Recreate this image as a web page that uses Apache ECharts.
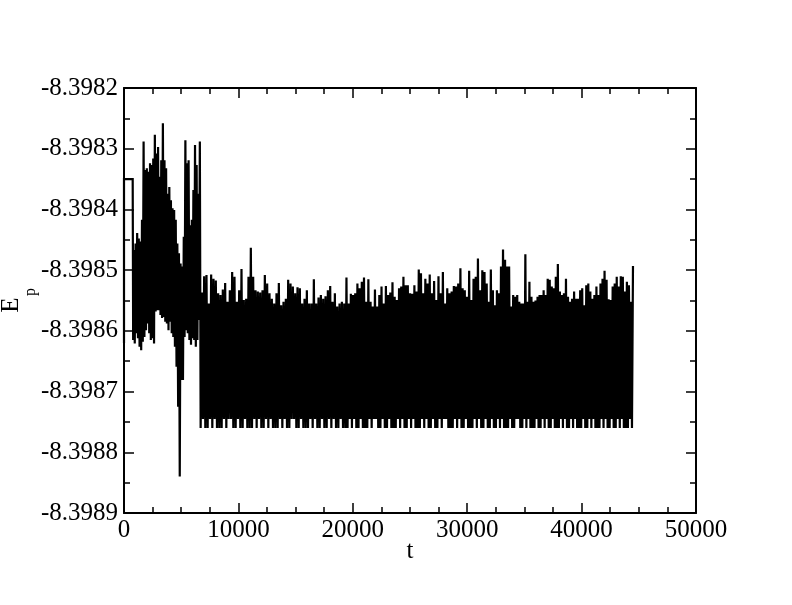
<!DOCTYPE html>
<html>
<head>
<meta charset="utf-8">
<script src="https://cdn.jsdelivr.net/npm/echarts@6/dist/echarts.min.js"></script>
<style>
html,body{margin:0;padding:0;background:#fff;}
#c{width:792px;height:605px;}
</style>
</head>
<body>
<div id="c"></div>
<script>
// ---- data (t, E_p) ----
const xTicks = [0, 10000, 20000, 30000, 40000, 50000];
const yTicks = [-8.3989, -8.3988, -8.3987, -8.3986, -8.3985, -8.3984, -8.3983, -8.3982];

// initial plateau
const startPoints = [[0, -8.39862], [0, -8.39835], [760, -8.39835]];

// segment time boundaries (early, A, B, C)
const segBounds = [800, 6700, 19350, 31800, 44580];

// early (transient) region
const troughsE = [-8.398615,-8.398621,-8.398604,-8.398612,-8.398626,-8.398632,-8.398618,-8.398610,-8.398599,-8.398588,
  -8.398604,-8.398615,-8.398612,-8.398621,-8.398568,-8.398566,-8.398566,-8.398574,-8.398579,-8.398577,
  -8.398585,-8.398588,-8.398599,-8.398585,-8.398604,-8.398610,-8.398626,-8.398659,-8.398725,-8.398840,
  -8.398681,-8.398681,-8.398610,-8.398599,-8.398604,-8.398615,-8.398623,-8.398612,-8.398615,-8.398626,
  -8.398615,-8.398582];
const peaksE = [-8.398467,-8.398456,-8.398439,-8.398448,-8.398453,-8.398417,-8.398288,-8.398335,-8.398332,-8.398338,
  -8.398324,-8.398327,-8.398316,-8.398277,-8.398308,-8.398297,-8.398346,-8.398319,-8.398258,-8.398319,
  -8.398332,-8.398374,-8.398363,-8.398385,-8.398398,-8.398401,-8.398417,-8.398456,-8.398472,-8.398489,
  -8.398494,-8.398445,-8.398286,-8.398324,-8.398319,-8.398426,-8.398417,-8.398368,-8.398294,-8.398327,
  -8.398374,-8.398288];

// stationary region, part A
const peaksA = [-8.398537,-8.398510,-8.398508,-8.398555,-8.398507,-8.398514,-8.398517,-8.398538,-8.398541,-8.398532,
  -8.398521,-8.398552,-8.398533,-8.398503,-8.398511,-8.398552,-8.398533,-8.398498,-8.398549,-8.398547,
  -8.398511,-8.398463,-8.398511,-8.398533,-8.398535,-8.398537,-8.398533,-8.398508,-8.398522,-8.398538,
  -8.398547,-8.398555,-8.398538,-8.398521,-8.398558,-8.398552,-8.398547,-8.398516,-8.398522,-8.398527,
  -8.398538,-8.398528,-8.398530,-8.398555,-8.398547,-8.398533,-8.398555,-8.398555,-8.398515,-8.398555,
  -8.398545,-8.398541,-8.398547,-8.398543,-8.398533,-8.398526,-8.398552,-8.398538,-8.398560,-8.398555,
  -8.398552,-8.398555];
const troughsA = [-8.39876,-8.398745,-8.39876,-8.39876,-8.398745,-8.39876,-8.398745,-8.39876,-8.39876,-8.39876,
  -8.398745,-8.39876,-8.398745,-8.398745,-8.39876,-8.39876,-8.398745,-8.39876,-8.39876,-8.398745,
  -8.39876,-8.39876,-8.39876,-8.398745,-8.39876,-8.398745,-8.39876,-8.39876,-8.398745,-8.39876,
  -8.398745,-8.39876,-8.39876,-8.39876,-8.398745,-8.39876,-8.398745,-8.39876,-8.39876,-8.398745,
  -8.398745,-8.39876,-8.39876,-8.398745,-8.39876,-8.39876,-8.39876,-8.398745,-8.39876,-8.398745,
  -8.39876,-8.39876,-8.398745,-8.39876,-8.39876,-8.398745,-8.39876,-8.398745,-8.39876,-8.39876,
  -8.398745,-8.39876];

// stationary region, part B
const peaksB = [-8.398512,-8.398555,-8.398539,-8.398541,-8.398538,-8.398522,-8.398530,-8.398519,-8.398512,-8.398552,
  -8.398515,-8.398552,-8.398560,-8.398532,-8.398560,-8.398541,-8.398527,-8.398555,-8.398526,-8.398541,
  -8.398537,-8.398520,-8.398544,-8.398549,-8.398530,-8.398527,-8.398511,-8.398525,-8.398525,-8.398538,
  -8.398539,-8.398525,-8.398535,-8.398499,-8.398505,-8.398538,-8.398514,-8.398522,-8.398507,-8.398538,
  -8.398518,-8.398549,-8.398510,-8.398538,-8.398503,-8.398555,-8.398530,-8.398538,-8.398535,-8.398526,
  -8.398527,-8.398522,-8.398497,-8.398530,-8.398533,-8.398544,-8.398501,-8.398549,-8.398514,-8.398511,
  -8.398481,-8.398533,-8.398500,-8.398503,-8.398522];
const troughsB = [-8.39876,-8.39876,-8.398745,-8.39876,-8.398745,-8.39876,-8.39876,-8.398745,-8.39876,-8.39876,
  -8.39876,-8.398745,-8.39876,-8.398745,-8.398745,-8.39876,-8.39876,-8.398745,-8.39876,-8.39876,
  -8.398745,-8.39876,-8.39876,-8.39876,-8.398745,-8.39876,-8.398745,-8.39876,-8.39876,-8.398745,
  -8.39876,-8.398745,-8.39876,-8.39876,-8.39876,-8.398745,-8.39876,-8.398745,-8.39876,-8.39876,
  -8.398745,-8.39876,-8.39876,-8.398745,-8.39876,-8.398745,-8.398745,-8.39876,-8.39876,-8.39876,
  -8.398745,-8.39876,-8.398745,-8.39876,-8.39876,-8.398745,-8.39876,-8.39876,-8.39876,-8.398745,
  -8.39876,-8.398745,-8.39876,-8.39876,-8.398745];

// stationary region, part C
const peaksC = [-8.398552,-8.398499,-8.398533,-8.398558,-8.398533,-8.398538,-8.398494,-8.398466,-8.398483,-8.398494,
  -8.398494,-8.398560,-8.398541,-8.398544,-8.398541,-8.398552,-8.398555,-8.398555,-8.398474,-8.398552,
  -8.398519,-8.398544,-8.398552,-8.398550,-8.398544,-8.398541,-8.398541,-8.398533,-8.398541,-8.398514,
  -8.398516,-8.398527,-8.398530,-8.398511,-8.398490,-8.398535,-8.398541,-8.398538,-8.398514,-8.398544,
  -8.398552,-8.398547,-8.398535,-8.398547,-8.398547,-8.398533,-8.398530,-8.398558,-8.398525,-8.398522,
  -8.398535,-8.398547,-8.398541,-8.398527,-8.398541,-8.398522,-8.398514,-8.398501,-8.398516,-8.398548,
  -8.398549,-8.398527,-8.398522,-8.398511,-8.398527,-8.398510,-8.398511,-8.398535,-8.398519,-8.398525,
  -8.398552,-8.398493];
const troughsC = [-8.39876,-8.39876,-8.398745,-8.39876,-8.39876,-8.398745,-8.39876,-8.398745,-8.39876,-8.39876,
  -8.39876,-8.398745,-8.39876,-8.39876,-8.398745,-8.398745,-8.39876,-8.39876,-8.398745,-8.39876,
  -8.398745,-8.39876,-8.39876,-8.39876,-8.398745,-8.39876,-8.39876,-8.398745,-8.39876,-8.398745,
  -8.39876,-8.39876,-8.398745,-8.39876,-8.39876,-8.39876,-8.398745,-8.39876,-8.398745,-8.39876,
  -8.39876,-8.398745,-8.39876,-8.398745,-8.39876,-8.39876,-8.39876,-8.398745,-8.39876,-8.39876,
  -8.398745,-8.39876,-8.398745,-8.39876,-8.39876,-8.39876,-8.398745,-8.39876,-8.398745,-8.39876,
  -8.39876,-8.398745,-8.39876,-8.39876,-8.398745,-8.39876,-8.398745,-8.39876,-8.39876,-8.39876,
  -8.398745,-8.39876];

// ---- build the series ----
const segTroughs = [troughsE, troughsA, troughsB, troughsC];
const segPeaks = [peaksE, peaksA, peaksB, peaksC];
const seriesData = startPoints.slice();
for (let s = 0; s < segPeaks.length; s++) {
  const p = segPeaks[s], tr = segTroughs[s];
  const n = Math.min(p.length, tr.length);
  const t0 = segBounds[s], t1 = segBounds[s + 1];
  const dt = (t1 - t0) / n;
  for (let i = 0; i < n; i++) {
    seriesData.push([t0 + i * dt, tr[i]]);
    seriesData.push([t0 + (i + 0.5) * dt, p[i]]);
  }
}

const FONT = 'Liberation Serif';
const axisLine = { show: true, onZero: false, lineStyle: { color: '#000', width: 2 } };
const tickStyle = { color: '#000', width: 1.5 };

const chart = echarts.init(document.getElementById('c'), null, { renderer: 'canvas' });
chart.setOption({
  animation: false,
  backgroundColor: '#fff',
  grid: { left: 124, right: 96, top: 88, bottom: 92, containLabel: false },
  xAxis: [{
    type: 'value', min: xTicks[0], max: xTicks[xTicks.length - 1], interval: 10000,
    position: 'bottom',
    axisLine: axisLine,
    axisTick: { show: true, inside: true, length: 10, lineStyle: tickStyle },
    minorTick: { show: true, splitNumber: 4, length: 6, lineStyle: tickStyle },
    splitLine: { show: false },
    axisLabel: { color: '#000', fontFamily: FONT, fontSize: 25, margin: 5,
      formatter: function (v) { return String(Math.round(v)); } },
    name: 't', nameLocation: 'middle', nameGap: 26, nameMoveOverlap: false,
    nameTextStyle: { color: '#000', fontFamily: FONT, fontSize: 25 }
  }, {
    type: 'value', min: xTicks[0], max: xTicks[xTicks.length - 1], interval: 10000,
    position: 'top',
    axisLine: axisLine,
    axisTick: { show: true, inside: true, length: 10, lineStyle: tickStyle },
    minorTick: { show: true, splitNumber: 4, length: 6, lineStyle: tickStyle },
    splitLine: { show: false },
    axisLabel: { show: false }
  }],
  yAxis: [{
    type: 'value', min: yTicks[0], max: yTicks[yTicks.length - 1], interval: 0.0001,
    position: 'left',
    axisLine: axisLine,
    axisTick: { show: true, inside: true, length: 10, lineStyle: tickStyle },
    minorTick: { show: true, splitNumber: 2, length: 6, lineStyle: tickStyle },
    splitLine: { show: false },
    axisLabel: { color: '#000', fontFamily: FONT, fontSize: 25, margin: 6,
      formatter: function (v) { return v.toFixed(4); } }
  }, {
    type: 'value', min: yTicks[0], max: yTicks[yTicks.length - 1], interval: 0.0001,
    position: 'right',
    axisLine: axisLine,
    axisTick: { show: true, inside: true, length: 10, lineStyle: tickStyle },
    minorTick: { show: true, splitNumber: 2, length: 6, lineStyle: tickStyle },
    splitLine: { show: false },
    axisLabel: { show: false }
  }],
  graphic: [
    { type: 'text', x: 11, y: 305, rotation: Math.PI / 2,
      style: { text: 'E', fontFamily: FONT, fontSize: 25, fill: '#000', align: 'center', verticalAlign: 'middle' } },
    { type: 'text', x: 31, y: 292, rotation: Math.PI / 2,
      style: { text: 'p', fontFamily: FONT, fontSize: 16, fill: '#000', align: 'center', verticalAlign: 'middle' } }
  ],
  series: [{
    type: 'line',
    data: seriesData,
    xAxisIndex: 0, yAxisIndex: 0,
    showSymbol: false,
    symbol: 'none',
    sampling: null,
    lineStyle: { color: '#000', width: 2.2, join: 'miter', miterLimit: 2 },
    emphasis: { disabled: true },
    clip: true
  }]
});
</script>
</body>
</html>
